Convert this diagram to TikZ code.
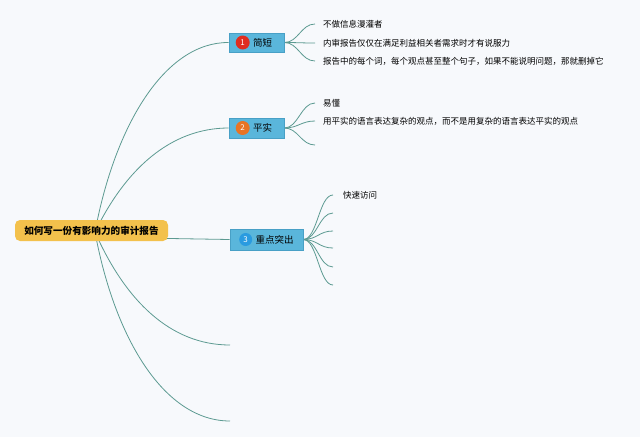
\documentclass[tikz,border=0pt]{standalone}
\usepackage{fontspec}
\setmainfont{Noto Sans CJK SC}
\usetikzlibrary{calc}
\definecolor{bgc}{RGB}{247,249,252}
\definecolor{linec}{RGB}{92,154,145}
\definecolor{topicc}{RGB}{90,182,219}
\definecolor{topicb}{RGB}{72,160,198}
\definecolor{rootc}{RGB}{243,193,76}
\definecolor{bred}{RGB}{224,45,32}
\definecolor{borange}{RGB}{232,116,36}
\definecolor{bblue}{RGB}{42,155,224}
\pgfdeclarelayer{bg}
\pgfsetlayers{bg,main}
\begin{document}
\begin{tikzpicture}[x=1pt,y=-1pt,
 conn/.style={draw=linec, line width=0.8pt},
 rootbox/.style={fill=rootc, rounded corners=5pt, minimum width=153pt, minimum height=21pt, inner sep=0pt, font=\fontsize{9.6}{10}\selectfont\bfseries},
 topic/.style={fill=topicc, draw=topicb, line width=0.6pt, inner sep=0pt},
 badge/.style={circle, minimum size=14pt, inner sep=0pt, text=white, font=\fontsize{8}{8}\selectfont},
 ttext/.style={anchor=west, inner sep=0pt, font=\fontsize{9.5}{10}\selectfont},
 leaf/.style={anchor=west, inner sep=0pt, font=\fontsize{8.5}{9}\selectfont},
]
\begin{pgfonlayer}{bg}
\fill[bgc] (0,0) rectangle (640,437);
\end{pgfonlayer}
\useasboundingbox (0,0) rectangle (640,437);

% root
\node[rootbox] (root) at (91.5,230.5) {如何写一份有影响力的审计报告};
\coordinate (o) at (95,232);
\coordinate (o3) at (140,238);

% topics
\node[topic, minimum width=55pt, minimum height=19pt] (b1) at (256.5,42.5) {};
\node[badge, fill=bred] (k1) at ([xshift=14pt]b1.west) {1};
\node[ttext] (t1) at ([xshift=3pt]k1.east) {简短};

\node[topic, minimum width=55pt, minimum height=20pt] (b2) at (256.5,128) {};
\node[badge, fill=borange] (k2) at ([xshift=14pt]b2.west) {2};
\node[ttext] (t2) at ([xshift=3pt]k2.east) {平实};

\node[topic, minimum width=73pt, minimum height=21pt] (b3) at (266.5,239.5) {};
\node[badge, fill=bblue, minimum size=13pt] (k3) at ([xshift=16pt]b3.west) {3};
\node[ttext] (t3) at ([xshift=3pt]k3.east) {重点突出};

\coordinate (e4) at (230,345);
\coordinate (e5) at (230,421);

% leaves
\node[leaf] (l11) at (323,24) {不做信息漫灌者};
\node[leaf] (l12) at (323,43) {内审报告仅仅在满足利益相关者需求时才有说服力};
\node[leaf] (l13) at (323,61) {报告中的每个词，每个观点甚至整个句子，如果不能说明问题，那就删掉它};

\node[leaf] (l21) at (323,103) {易懂};
\node[leaf] (l22) at (323,121) {用平实的语言表达复杂的观点，而不是用复杂的语言表达平实的观点};
\coordinate (a23) at (315,145);

\node[leaf] (l31) at (343,195) {快速访问};
\coordinate (a32) at (333,213);
\coordinate (a33) at (333,231);
\coordinate (a34) at (333,248);
\coordinate (a35) at (333,267);
\coordinate (a36) at (333,285);

\begin{pgfonlayer}{bg}
\draw[conn] (o) .. controls (115,125) and (165,42) .. (b1.west);
\draw[conn] (o) .. controls (125,170) and (170,128) .. (b2.west);
\draw[conn] (o3) -- (b3.west);
\draw[conn] (o) .. controls (125,300) and (170,345) .. (e4);
\draw[conn] (o) .. controls (115,340) and (165,421) .. (e5);

\draw[conn] (b1.east) .. controls +(14,0) and +(-14,0) .. ([xshift=-8pt]l11.west);
\draw[conn] (b1.east) .. controls +(14,0) and +(-14,0) .. ([xshift=-8pt]l12.west);
\draw[conn] (b1.east) .. controls +(14,0) and +(-14,0) .. ([xshift=-8pt]l13.west);

\draw[conn] (b2.east) .. controls +(14,0) and +(-14,0) .. ([xshift=-8pt]l21.west);
\draw[conn] (b2.east) .. controls +(14,0) and +(-14,0) .. ([xshift=-8pt]l22.west);
\draw[conn] (b2.east) .. controls +(14,0) and +(-14,0) .. (a23);

\draw[conn] (b3.east) .. controls +(14,0) and +(-14,0) .. ([xshift=-10pt]l31.west);
\draw[conn] (b3.east) .. controls +(14,0) and +(-14,0) .. (a32);
\draw[conn] (b3.east) .. controls +(14,0) and +(-14,0) .. (a33);
\draw[conn] (b3.east) .. controls +(14,0) and +(-14,0) .. (a34);
\draw[conn] (b3.east) .. controls +(14,0) and +(-14,0) .. (a35);
\draw[conn] (b3.east) .. controls +(14,0) and +(-14,0) .. (a36);
\end{pgfonlayer}
\end{tikzpicture}
\end{document}
